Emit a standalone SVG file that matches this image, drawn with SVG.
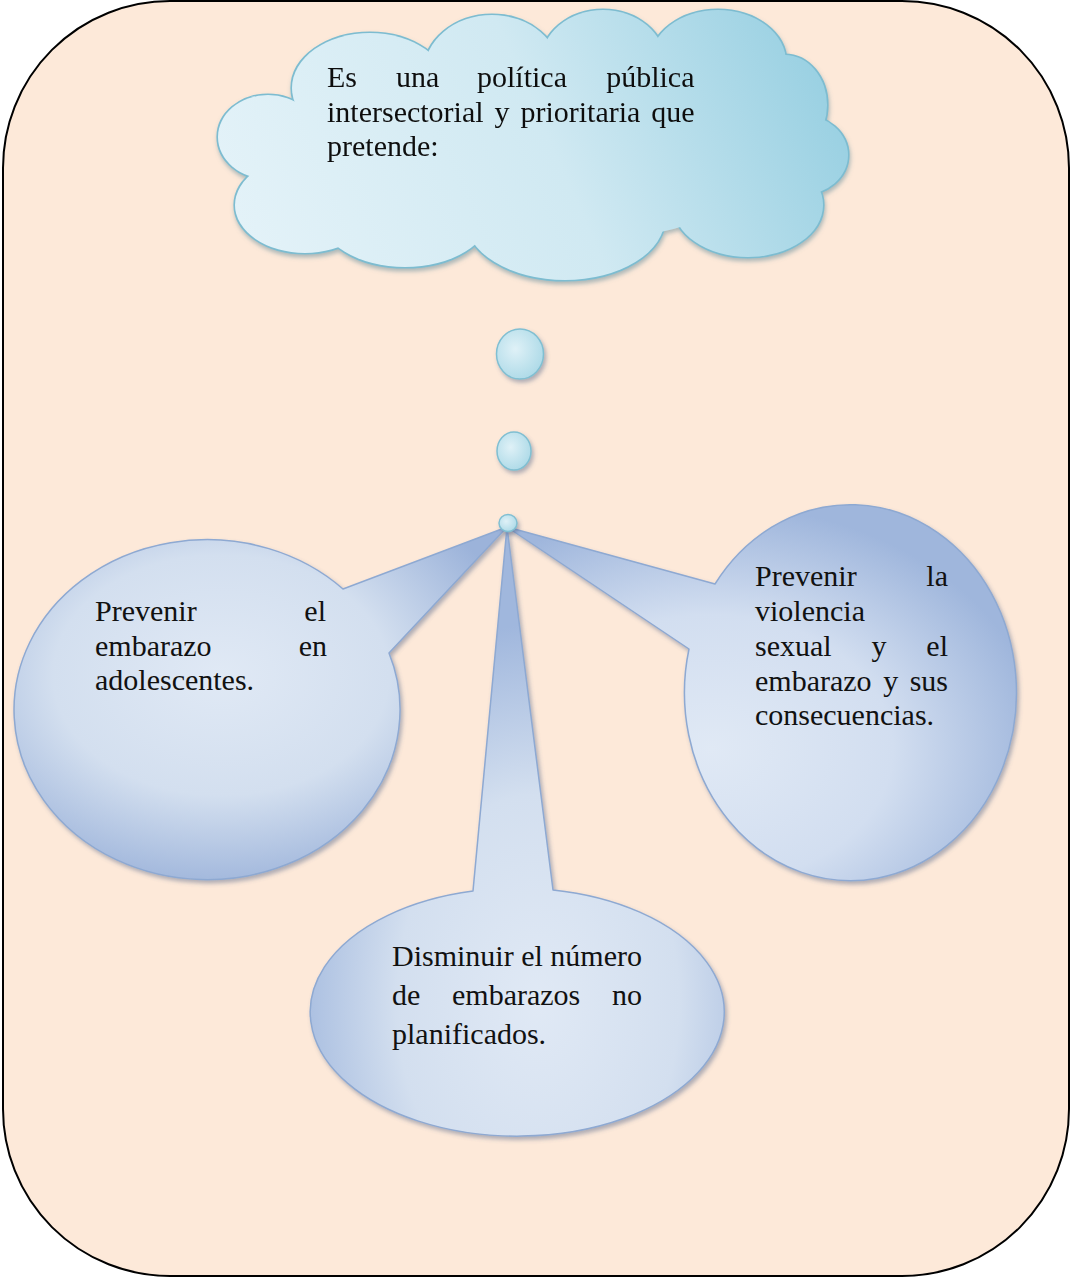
<svg xmlns="http://www.w3.org/2000/svg" width="1071" height="1278" viewBox="0 0 1071 1278">
  <defs>
    <style>
      .txt { font-family: "Liberation Serif", "Times New Roman", serif; font-size: 30px; fill: #111111; }
      .bubble { stroke: #8ea9d2; stroke-width: 1.5; stroke-linejoin: round; }
      .cloud-edge { fill: none; stroke: #7dbcd0; stroke-width: 3.2; }
      .cloud-fill { fill: url(#cloudGrad); stroke: none; }
      .dot { fill: url(#dotGrad); stroke: #80bfd2; stroke-width: 1.5; }
    </style>
    <linearGradient id="cloudGrad" gradientUnits="userSpaceOnUse" x1="260" y1="270" x2="840" y2="15">
      <stop offset="0" stop-color="#e3f2f8"/>
      <stop offset="0.5" stop-color="#d0e9f2"/>
      <stop offset="1" stop-color="#92cde0"/>
    </linearGradient>
    <radialGradient id="dotGrad" cx="0.4" cy="0.4" r="0.7">
      <stop offset="0" stop-color="#dff1f7"/>
      <stop offset="1" stop-color="#a9d8e6"/>
    </radialGradient>
    <radialGradient id="gradLeft" cx="0.42" cy="0.42" r="0.62">
      <stop offset="0" stop-color="#e0e9f5"/>
      <stop offset="0.55" stop-color="#d3dfef"/>
      <stop offset="1" stop-color="#9cb3da"/>
    </radialGradient>
    <radialGradient id="gradRight" cx="0.4" cy="0.65" r="0.65">
      <stop offset="0" stop-color="#e0e9f5"/>
      <stop offset="0.55" stop-color="#d2def0"/>
      <stop offset="1" stop-color="#9fb6dc"/>
    </radialGradient>
    <radialGradient id="gradBottom" cx="0.55" cy="0.78" r="0.62">
      <stop offset="0" stop-color="#e0e9f5"/>
      <stop offset="0.55" stop-color="#d3dfef"/>
      <stop offset="1" stop-color="#a0b7dd"/>
    </radialGradient>
    <filter id="shadow" x="-10%" y="-10%" width="125%" height="125%">
      <feDropShadow dx="2" dy="3" stdDeviation="2" flood-color="#4d6488" flood-opacity="0.45"/>
    </filter>
    <filter id="cloudShadow" x="-10%" y="-10%" width="125%" height="130%">
      <feDropShadow dx="1" dy="3" stdDeviation="2" flood-color="#5b8797" flood-opacity="0.5"/>
    </filter>
  </defs>

  <!-- page frame -->
  <rect x="3" y="1" width="1066" height="1275" rx="167" ry="167" fill="#fde9d9" stroke="#000000" stroke-width="2"/>

  <!-- thought cloud -->
  <g id="cloud" filter="url(#cloudShadow)">
    <g class="cloud-edge">
      <ellipse cx="268" cy="137" rx="50" ry="42"/>
      <ellipse cx="305" cy="205" rx="70" ry="48"/>
      <ellipse cx="370" cy="88" rx="78" ry="55"/>
      <ellipse cx="492" cy="72" rx="68" ry="57"/>
      <ellipse cx="603" cy="62" rx="62" ry="52"/>
      <ellipse cx="718" cy="62" rx="68" ry="52"/>
      <ellipse cx="785" cy="105" rx="42" ry="50"/>
      <ellipse cx="802" cy="155" rx="46" ry="40"/>
      <ellipse cx="748" cy="205" rx="75" ry="52"/>
      <ellipse cx="565" cy="218" rx="100" ry="62"/>
      <ellipse cx="405" cy="215" rx="85" ry="52"/>
    </g>
    <g class="cloud-fill">
      <ellipse cx="268" cy="137" rx="50" ry="42"/>
      <ellipse cx="305" cy="205" rx="70" ry="48"/>
      <ellipse cx="370" cy="88" rx="78" ry="55"/>
      <ellipse cx="492" cy="72" rx="68" ry="57"/>
      <ellipse cx="603" cy="62" rx="62" ry="52"/>
      <ellipse cx="718" cy="62" rx="68" ry="52"/>
      <ellipse cx="785" cy="105" rx="42" ry="50"/>
      <ellipse cx="802" cy="155" rx="46" ry="40"/>
      <ellipse cx="748" cy="205" rx="75" ry="52"/>
      <ellipse cx="565" cy="218" rx="100" ry="62"/>
      <ellipse cx="405" cy="215" rx="85" ry="52"/>
      <ellipse cx="540" cy="150" rx="240" ry="95"/>
    </g>
    <g class="txt">
      <text x="327" y="87">Es</text>
      <text x="396" y="87">una</text>
      <text x="477" y="87">política</text>
      <text x="694.5" y="87" text-anchor="end">pública</text>
      <text x="327" y="121.5">intersectorial</text>
      <text x="494.5" y="121.5">y</text>
      <text x="520.4" y="121.5">prioritaria</text>
      <text x="694.5" y="121.5" text-anchor="end">que</text>
      <text x="327" y="156">pretende:</text>
    </g>
  </g>

  <!-- callout: left -->
  <g id="callout-left">
    <path class="bubble" fill="url(#gradLeft)" filter="url(#shadow)" d="M 343,589 L 507,527 L 389,653 A 193,170 0 1 1 343,589 Z"/>
    <g class="txt">
      <text x="95" y="621">Prevenir</text>
      <text x="326" y="621" text-anchor="end">el</text>
      <text x="95" y="655.5">embarazo</text>
      <text x="327" y="655.5" text-anchor="end">en</text>
      <text x="95" y="690">adolescentes.</text>
    </g>
  </g>

  <!-- callout: right -->
  <g id="callout-right">
    <path class="bubble" fill="url(#gradRight)" filter="url(#shadow)" d="M 715,584 L 507,527 L 689,649 A 166,188 0 1 0 715,584 Z"/>
    <g class="txt">
      <text x="755" y="586">Prevenir</text>
      <text x="948" y="586" text-anchor="end">la</text>
      <text x="755" y="621">violencia</text>
      <text x="755" y="656">sexual</text>
      <text x="871.5" y="656">y</text>
      <text x="948" y="656" text-anchor="end">el</text>
      <text x="755" y="690.5">embarazo</text>
      <text x="883.2" y="690.5">y</text>
      <text x="948" y="690.5" text-anchor="end">sus</text>
      <text x="755" y="725">consecuencias.</text>
    </g>
  </g>

  <!-- callout: bottom -->
  <g id="callout-bottom">
    <path class="bubble" fill="url(#gradBottom)" filter="url(#shadow)" d="M 473,891 L 507,527 L 553,890 A 207,124 0 1 1 473,891 Z"/>
    <g class="txt">
      <text x="392" y="966">Disminuir el número</text>
      <text x="392" y="1005">de</text>
      <text x="452" y="1005">embarazos</text>
      <text x="642" y="1005" text-anchor="end">no</text>
      <text x="392" y="1044">planificados.</text>
    </g>
  </g>

  <!-- thought dots leading from the cloud to the callouts -->
  <g id="connectors" filter="url(#shadow)">
    <ellipse class="dot" cx="520" cy="354" rx="23.5" ry="25"/>
    <ellipse class="dot" cx="514" cy="451" rx="17" ry="19"/>
    <ellipse class="dot" cx="508" cy="523" rx="9" ry="8.5"/>
  </g>
</svg>
